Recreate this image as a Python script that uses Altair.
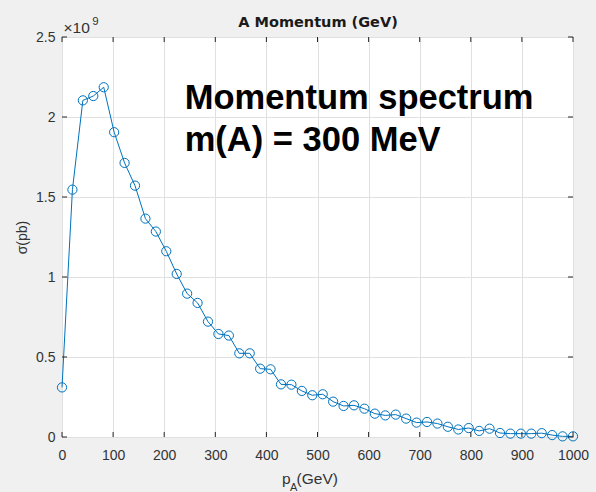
import altair as alt
import pandas as pd

# Momentum of A (GeV) at each point
p_A = [0.00, 20.41, 40.82, 61.22, 81.63, 102.04, 122.45, 142.86, 163.27, 183.67,
       204.08, 224.49, 244.90, 265.31, 285.71, 306.12, 326.53, 346.94, 367.35, 387.76,
       408.16, 428.57, 448.98, 469.39, 489.80, 510.20, 530.61, 551.02, 571.43, 591.84,
       612.24, 632.65, 653.06, 673.47, 693.88, 714.29, 734.69, 755.10, 775.51, 795.92,
       816.33, 836.73, 857.14, 877.55, 897.96, 918.37, 938.78, 959.18, 979.59, 1000.00]

# cross section sigma in units of 1e9 pb
sigma = [0.310, 1.546, 2.104, 2.131, 2.186, 1.905, 1.713, 1.571, 1.365, 1.284,
         1.161, 1.019, 0.896, 0.838, 0.721, 0.644, 0.634, 0.523, 0.523, 0.427,
         0.423, 0.329, 0.327, 0.288, 0.261, 0.267, 0.221, 0.194, 0.198, 0.177,
         0.146, 0.135, 0.140, 0.115, 0.090, 0.094, 0.084, 0.064, 0.047, 0.056,
         0.038, 0.052, 0.025, 0.021, 0.021, 0.021, 0.024, 0.012, 0.004, 0.004]

x_ticks = [0, 100, 200, 300, 400, 500, 600, 700, 800, 900, 1000]
y_ticks = [0, 0.5, 1, 1.5, 2, 2.5]

title_text = "A Momentum (GeV)"
annotation_lines = ["Momentum spectrum", "m(A) = 300 MeV"]

BLUE = "#0072BD"
DARK = "#262626"
LABEL = "#333333"
FONT = "Liberation Sans"

df = pd.DataFrame({"x": p_A, "y": sigma})

xscale = alt.Scale(domain=[0, 1000], nice=False, zero=False)
yscale = alt.Scale(domain=[0, 2.5], nice=False, zero=False)

x_axis = alt.Axis(values=x_ticks, title=None, grid=True, gridColor="#e0e0e0",
                  ticks=False, domain=False, labelFontSize=14, labelFont=FONT,
                  labelColor=LABEL, labelPadding=11, labelFlush=False, format="d")
y_axis = alt.Axis(values=y_ticks, title="σ(pb)", grid=True, gridColor="#e0e0e0",
                  ticks=False, domain=False, labelFontSize=14, labelFont=FONT,
                  labelColor=LABEL, labelPadding=7, labelFlush=False, format="~g",
                  titleFont=FONT, titleFontSize=14, titleFontWeight="normal",
                  titleColor=LABEL, titlePadding=6)

line = alt.Chart(df).mark_line(color=BLUE, strokeWidth=1, clip=False).encode(
    x=alt.X("x:Q", scale=xscale, axis=x_axis),
    y=alt.Y("y:Q", scale=yscale, axis=y_axis),
)
pts = alt.Chart(df).mark_point(shape="circle", filled=False, color=BLUE, size=85,
                               strokeWidth=1, opacity=1, clip=False).encode(
    x="x:Q", y="y:Q")

# inward ticks (MATLAB style)
tick_len_y = 5 / 160.0
tick_len_x = 5 / 0.511
xt = pd.DataFrame({"x": x_ticks * 2,
                   "y": [0] * len(x_ticks) + [2.5] * len(x_ticks),
                   "y2": [tick_len_y] * len(x_ticks) + [2.5 - tick_len_y] * len(x_ticks)})
yt = pd.DataFrame({"y": y_ticks * 2,
                   "x": [0] * len(y_ticks) + [1000] * len(y_ticks),
                   "x2": [tick_len_x] * len(y_ticks) + [1000 - tick_len_x] * len(y_ticks)})
xticks_l = alt.Chart(xt).mark_rule(color=DARK, strokeWidth=1).encode(
    x="x:Q", y="y:Q", y2="y2:Q")
yticks_l = alt.Chart(yt).mark_rule(color=DARK, strokeWidth=1).encode(
    y="y:Q", x="x:Q", x2="x2:Q")

# chart title
title_df = pd.DataFrame({"x": [501], "y": [2.5625], "t": [title_text]})
title_l = alt.Chart(title_df).mark_text(align="center", baseline="alphabetic", font="DejaVu Sans",
                                        fontWeight="bold", fontSize=14.5, color="#1a1a1a").encode(
    x="x:Q", y="y:Q", text="t:N")

# big annotation
ann = pd.DataFrame({"x": [240, 240], "y": [2.048, 1.788], "t": annotation_lines})
ann_l = alt.Chart(ann).mark_text(align="left", baseline="alphabetic", font=FONT,
                                 fontWeight="bold", fontSize=34.5, color="black").encode(
    x="x:Q", y="y:Q", text="t:N")

# exponent label x10^9
exp_df = pd.DataFrame({"x": [3.0], "y": [2.5275], "t": ["×10"]})
exp_l = alt.Chart(exp_df).mark_text(align="left", baseline="alphabetic", font=FONT,
                                    fontSize=15.5, color=LABEL).encode(x="x:Q", y="y:Q", text="t:N")
sup_df = pd.DataFrame({"x": [59.0], "y": [2.572], "t": ["9"]})
sup_l = alt.Chart(sup_df).mark_text(align="left", baseline="alphabetic", font=FONT,
                                    fontSize=11.5, color=LABEL).encode(x="x:Q", y="y:Q", text="t:N")

# x axis title p_A(GeV)
xt_df = pd.DataFrame({"x": [430.5, 459.0], "y": [-0.2956, -0.2956], "t": ["p", "(GeV)"]})
xt_l = alt.Chart(xt_df).mark_text(align="left", baseline="alphabetic", font=FONT,
                                  fontSize=15.5, color=LABEL).encode(x="x:Q", y="y:Q", text="t:N")
sub_df = pd.DataFrame({"x": [446.0], "y": [-0.335], "t": ["A"]})
sub_l = alt.Chart(sub_df).mark_text(align="left", baseline="alphabetic", font=FONT,
                                    fontSize=11, color=LABEL).encode(x="x:Q", y="y:Q", text="t:N")

chart = alt.layer(line, pts, xticks_l, yticks_l, title_l, ann_l, exp_l, sup_l, xt_l, sub_l).properties(
    width=511, height=400,
    autosize=alt.AutoSizeParams(type="none"),
    padding={"left": 62, "top": 37, "right": 23, "bottom": 55},
    background="#f0f0f0",
).configure_view(fill="white", stroke=DARK, strokeWidth=1)

chart.save("out.html", embed_options={"renderer": "svg", "actions": False})
